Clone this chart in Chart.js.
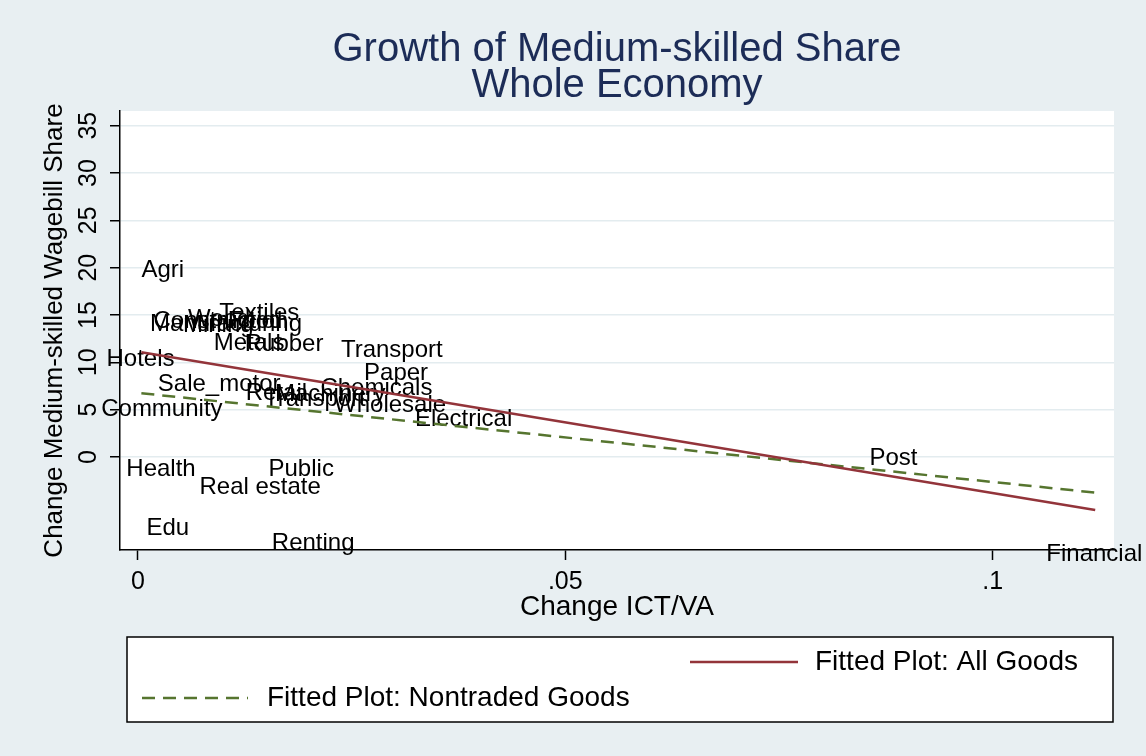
<!DOCTYPE html>
<html>
<head>
<meta charset="utf-8">
<title>Growth of Medium-skilled Share</title>
<script src="https://cdn.jsdelivr.net/npm/chart.js@4.4.0/dist/chart.umd.min.js"></script>
<style>
  html, body { margin: 0; padding: 0; background: #e8eff2; }
  canvas { display: block; }
</style>
</head>
<body>
<canvas id="chart" width="1146" height="756"></canvas>
<script>
// Industry labels, change in ICT/VA (x) and change in medium-skilled wagebill share (y)
const industries = [
  "Agri", "Hotels", "Community", "Sale_motor", "Retail", "Chemicals",
  "Transport", "Machinery", "Wholesale", "Electrical", "Paper", "Transport",
  "Post", "Financial", "Health", "Public", "Real estate", "Edu", "Renting",
  "Textiles", "Construction", "Wood", "Manufacturing", "Mining", "Food",
  "Metals", "Rubber"
];
const ictChange = [
  0.0029, 0.0003, 0.0028, 0.0095, 0.0162, 0.0279,
  0.0207, 0.0225, 0.0295, 0.0381, 0.0302, 0.0297,
  0.0884, 0.1119, 0.0027, 0.0191, 0.0143, 0.0035, 0.0205,
  0.0142, 0.0097, 0.0095, 0.0103, 0.0094, 0.0137,
  0.0130, 0.0171
];
const wageShareChange = [
  19.67, 10.31, 5.02, 7.72, 6.77, 7.22,
  6.08, 6.56, 5.45, 4.02, 8.88, 11.31,
  -0.11, -10.26, -1.27, -1.32, -3.17, -7.51, -9.15,
  15.17, 14.33, 14.49, 14.01, 13.85, 14.28,
  12.05, 11.90
];

// Fitted lines (end points over the x range of the data)
const fitAllX = [0.0004, 0.1120];
const fitAllY = [11.07, -5.60];
const fitNontradedX = [0.0004, 0.1120];
const fitNontradedY = [6.73, -3.77];

// Axis ticks
const xTicks = [0, 0.05, 0.1];
const xTickLabels = ["0", ".05", ".1"];
const yTicks = [0, 5, 10, 15, 20, 25, 30, 35];

const titleLines = ["Growth of Medium-skilled Share", "Whole Economy"];

const FONT = "'Liberation Sans', Arial, Helvetica, sans-serif";
Chart.defaults.font.family = FONT;
Chart.defaults.color = "#000";

const BG = "#e8eff2";
const RED = "#93343a";
const GREEN = "#56752f";

const toPoints = (xs, ys) => xs.map((x, i) => ({ x: x, y: ys[i] }));

// background, plot region, title
const framePlugin = {
  id: "frame",
  beforeDraw(chart) {
    const { ctx, chartArea: a } = chart;
    ctx.save();
    ctx.fillStyle = BG;
    ctx.fillRect(0, 0, chart.width, chart.height);
    ctx.fillStyle = "#fff";
    ctx.fillRect(a.left, a.top, a.right - a.left, a.bottom - a.top);
    ctx.restore();
  },
  afterDraw(chart) {
    const { ctx, chartArea: a } = chart;
    const cx = (a.left + a.right) / 2;
    ctx.save();
    ctx.fillStyle = "#1c2c57";
    ctx.font = "40px " + FONT;
    ctx.textAlign = "center";
    ctx.textBaseline = "middle";
    ctx.fillText(titleLines[0], cx, 50);
    ctx.fillText(titleLines[1], cx, 86);
    ctx.restore();
  }
};

// marker labels, centred on each (invisible) point
const labelPlugin = {
  id: "pointLabels",
  afterDatasetDraw(chart, args) {
    if (args.index !== 2) return;
    const { ctx } = chart;
    const meta = chart.getDatasetMeta(2);
    ctx.save();
    ctx.fillStyle = "#000";
    ctx.font = "24px " + FONT;
    ctx.textAlign = "center";
    ctx.textBaseline = "middle";
    meta.data.forEach((pt, i) => {
      ctx.fillText(industries[i], pt.x, pt.y);
    });
    ctx.restore();
  }
};

// Stata-style legend box below the plot
const legendPlugin = {
  id: "stataLegend",
  afterDraw(chart) {
    const { ctx } = chart;
    const ds = chart.data.datasets;
    ctx.save();
    ctx.fillStyle = "#fff";
    ctx.fillRect(127, 637, 986, 85);
    ctx.strokeStyle = "#000";
    ctx.lineWidth = 1.5;
    ctx.strokeRect(127, 637, 986, 85);

    const entries = [
      { d: ds[0], x0: 690, x1: 798, tx: 815, y: 662 },
      { d: ds[1], x0: 142, x1: 248, tx: 267, y: 698 }
    ];
    entries.forEach(e => {
      ctx.beginPath();
      ctx.strokeStyle = e.d.borderColor;
      ctx.lineWidth = e.d.borderWidth;
      ctx.setLineDash(e.d.borderDash || []);
      ctx.moveTo(e.x0, e.y);
      ctx.lineTo(e.x1, e.y);
      ctx.stroke();
      ctx.setLineDash([]);
      ctx.fillStyle = "#000";
      ctx.font = "28px " + FONT;
      ctx.textAlign = "left";
      ctx.textBaseline = "middle";
      ctx.fillText(e.d.label, e.tx, e.y);
    });
    ctx.restore();
  }
};

new Chart(document.getElementById("chart"), {
  type: "scatter",
  data: {
    datasets: [
      {
        label: "Fitted Plot: All Goods",
        data: toPoints(fitAllX, fitAllY),
        showLine: true,
        borderColor: RED,
        borderWidth: 2.5,
        pointRadius: 0,
        fill: false
      },
      {
        label: "Fitted Plot: Nontraded Goods",
        data: toPoints(fitNontradedX, fitNontradedY),
        showLine: true,
        borderColor: GREEN,
        borderWidth: 2.5,
        borderDash: [13, 8],
        pointRadius: 0,
        fill: false
      },
      {
        label: "Industries",
        data: toPoints(ictChange, wageShareChange),
        showLine: false,
        pointRadius: 0,
        pointHoverRadius: 0
      }
    ]
  },
  options: {
    responsive: false,
    devicePixelRatio: 1,
    animation: false,
    layout: { padding: { left: 0, top: 111, right: 32, bottom: 126 } },
    plugins: {
      legend: { display: false },
      title: { display: false },
      tooltip: { enabled: false }
    },
    scales: {
      x: {
        type: "linear",
        min: -0.0021,
        max: 0.1142,
        afterBuildTicks: (scale) => { scale.ticks = xTicks.map(v => ({ value: v })); },
        afterFit: (scale) => { scale.height = 80; },
        grid: { drawOnChartArea: false, drawTicks: true, tickLength: 10, tickColor: "#000", tickWidth: 1.5 },
        border: { display: true, color: "#000", width: 1.5 },
        ticks: {
          padding: 7,
          maxRotation: 0,
          autoSkip: false,
          font: { size: 25 },
          color: "#000",
          callback: (v) => {
            const i = xTicks.findIndex(t => Math.abs(t - v) < 1e-9);
            return i >= 0 ? xTickLabels[i] : "";
          }
        },
        title: {
          display: true,
          text: "Change ICT/VA",
          font: { size: 28 },
          color: "#000",
          padding: { top: 0, bottom: 6 }
        }
      },
      y: {
        type: "linear",
        min: -9.83,
        max: 36.55,
        afterBuildTicks: (scale) => { scale.ticks = yTicks.map(v => ({ value: v })); },
        afterFit: (scale) => { scale.width = 120; },
        grid: { color: "#e3ecef", lineWidth: 1.5, tickLength: 10, tickColor: "#000", tickWidth: 1.5 },
        border: { display: true, color: "#000", width: 1.5 },
        ticks: {
          minRotation: 90,
          maxRotation: 90,
          crossAlign: "center",
          padding: 7,
          autoSkip: false,
          font: { size: 25 },
          color: "#000"
        },
        title: {
          display: true,
          text: "Change Medium-skilled Wagebill Share",
          font: { size: 26 },
          color: "#000",
          padding: { top: 39, bottom: 0 }
        }
      }
    }
  },
  plugins: [framePlugin, labelPlugin, legendPlugin]
});
</script>
</body>
</html>
